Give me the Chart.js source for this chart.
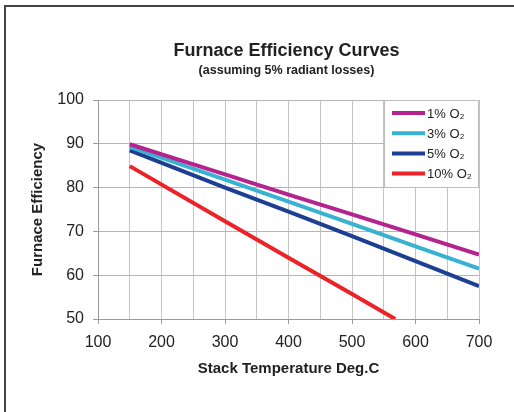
<!DOCTYPE html>
<html>
<head>
<meta charset="utf-8">
<script src="https://cdn.jsdelivr.net/npm/chart.js@4.4.1/dist/chart.umd.min.js"></script>
<style>
  html, body { margin: 0; padding: 0; background: #fff; overflow: hidden; }
  #wrap { position: relative; width: 514px; height: 412px; }
  #frame { position: absolute; left: 4px; top: 5px; width: 530px; height: 430px;
           border-left: 2px solid #444; border-top: 2px solid #444; box-sizing: border-box; }
  canvas { position: absolute; left: 0; top: 0; }
</style>
</head>
<body>
<div id="wrap">
  <div id="frame"></div>
  <canvas id="c" width="514" height="412"></canvas>
</div>
<script>
// Stack temperature (°C) and furnace efficiency (%) for each excess-O2 level
const seriesLabels = ['1% O\u2082', '3% O\u2082', '5% O\u2082', '10% O\u2082'];
const tempsMain = [150, 300, 400, 500, 600, 700];
const eff1 = [89.9, 83.0, 78.4, 73.9, 69.3, 64.7];
const eff3 = [89.3, 81.8, 76.8, 71.7, 66.6, 61.5];
const eff5 = [88.5, 80.0, 74.5, 68.9, 63.2, 57.5];
const temps10 = [150, 300, 400, 500, 568];
const eff10 = [84.9, 72.3, 64.0, 55.7, 50.0];
const colors = ['#b5238f', '#38b2d2', '#1d3f93', '#ec2227'];

const FONT = '"Liberation Sans", Arial, Helvetica, sans-serif';

function pts(xs, ys) { return xs.map((x, i) => ({ x: x, y: ys[i] })); }

// Titles and the boxed legend inside the plot's top-right corner
const decor = {
  id: 'decor',
  afterDraw(chart) {
    const ctx = chart.ctx;
    const a = chart.chartArea;
    const cx = (a.left + a.right) / 2 - 2;
    ctx.save();
    ctx.fillStyle = '#222';
    ctx.textAlign = 'center';
    ctx.textBaseline = 'middle';
    ctx.font = 'bold 18px ' + FONT;
    ctx.fillText('Furnace Efficiency Curves', cx, 51);
    ctx.font = 'bold 12.5px ' + FONT;
    ctx.fillText('(assuming 5% radiant losses)', cx, 71);

    // legend box
    const bx = a.right - 95, by = a.top, bw = 95, bh = 87;
    ctx.fillStyle = '#fff';
    ctx.fillRect(bx, by, bw, bh);
    ctx.strokeStyle = '#bdbdbd';
    ctx.lineWidth = 1;
    ctx.strokeRect(bx + 0.5, by + 0.5, bw - 1, bh);
    ctx.font = '13px ' + FONT;
    ctx.textAlign = 'left';
    chart.data.datasets.forEach((ds, i) => {
      const y = by + 13 + i * 20.2;
      ctx.strokeStyle = ds.borderColor;
      ctx.lineWidth = 4;
      ctx.beginPath();
      ctx.moveTo(bx + 8, y);
      ctx.lineTo(bx + 41, y);
      ctx.stroke();
      ctx.fillStyle = '#222';
      ctx.fillText(ds.label, bx + 43, y + 1);
    });
    ctx.restore();
  }
};

new Chart(document.getElementById('c'), {
  type: 'line',
  data: {
    datasets: [
      { label: seriesLabels[0], data: pts(tempsMain, eff1), borderColor: colors[0] },
      { label: seriesLabels[1], data: pts(tempsMain, eff3), borderColor: colors[1] },
      { label: seriesLabels[2], data: pts(tempsMain, eff5), borderColor: colors[2] },
      { label: seriesLabels[3], data: pts(temps10, eff10), borderColor: colors[3] }
    ].map(d => Object.assign(d, { borderWidth: 4, pointRadius: 0, tension: 0, fill: false }))
  },
  options: {
    responsive: false,
    animation: false,
    devicePixelRatio: 1,
    layout: { padding: { left: 0, top: 100, right: 35, bottom: 0 } },
    plugins: { legend: { display: false }, tooltip: { enabled: false }, title: { display: false } },
    scales: {
      x: {
        type: 'linear',
        min: 100, max: 700,
        afterFit(s) { s.height = 93; },
        ticks: {
          stepSize: 50,
          autoSkip: false,
          maxRotation: 0,
          padding: 9,
          color: '#222',
          font: { family: FONT, size: 16 },
          callback: v => (v % 100 === 0 ? String(v) : '')
        },
        grid: {
          color: '#c4c4c4',
          lineWidth: 1,
          tickLength: 5,
          tickColor: c => (c.tick && c.tick.value % 100 === 0 ? '#9a9a9a' : 'rgba(0,0,0,0)')
        },
        border: { color: '#9a9a9a', width: 1 },
        title: {
          display: true,
          text: 'Stack Temperature Deg.C',
          color: '#222',
          font: { family: FONT, size: 15, weight: 'bold' },
          padding: { top: 0, bottom: 34 }
        }
      },
      y: {
        min: 50, max: 100,
        afterFit(s) { s.width = 98; },
        ticks: {
          stepSize: 10,
          padding: 9,
          color: '#222',
          font: { family: FONT, size: 16 }
        },
        grid: { color: '#b5b5b5', lineWidth: 1, tickLength: 5, tickColor: '#9a9a9a' },
        border: { color: '#9a9a9a', width: 1 },
        title: {
          display: true,
          text: 'Furnace Efficiency',
          color: '#222',
          font: { family: FONT, size: 15, weight: 'bold' },
          padding: { top: 29, bottom: 0 }
        }
      }
    }
  },
  plugins: [decor]
});
</script>
</body>
</html>
